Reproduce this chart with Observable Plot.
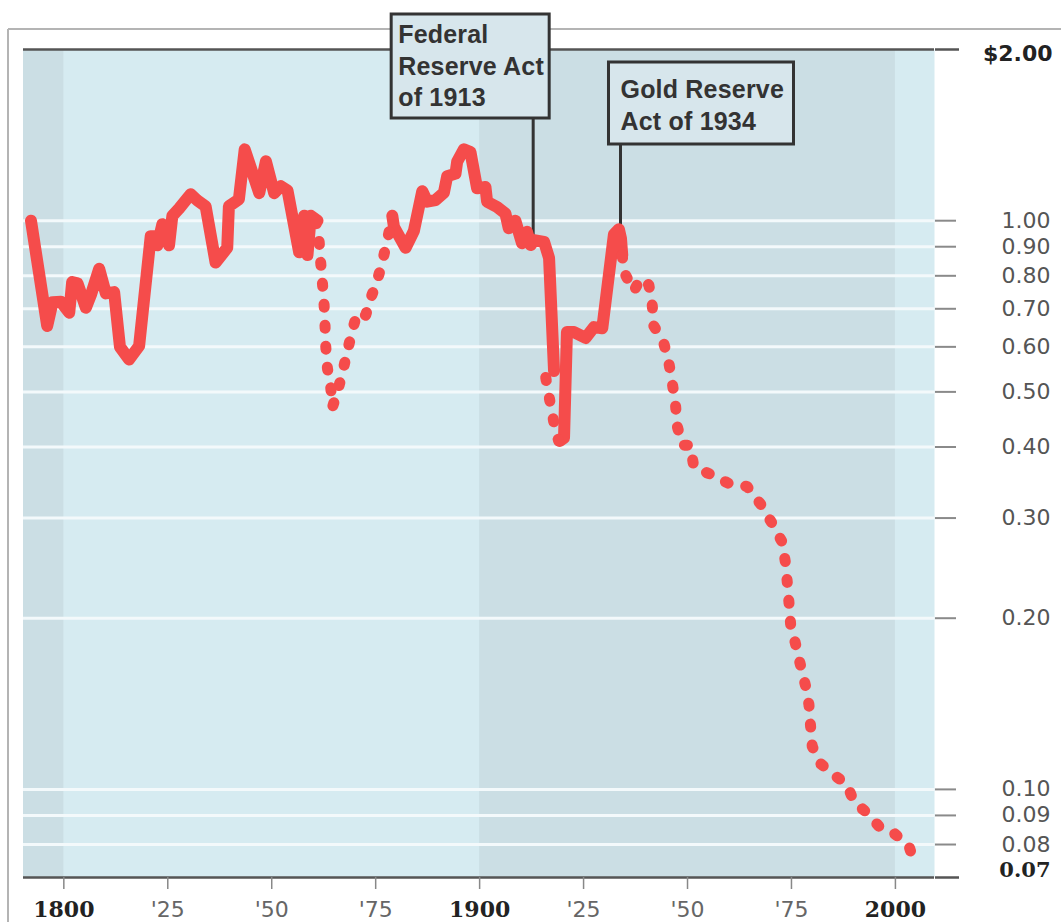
<!DOCTYPE html>
<html>
<head>
<meta charset="utf-8">
<script src="https://cdn.jsdelivr.net/npm/d3@7"></script>
<script src="https://cdn.jsdelivr.net/npm/@observablehq/plot@0.6"></script>
<style>
  html, body { margin: 0; padding: 0; background: #fff; }
  #chart { width: 1061px; height: 922px; }
</style>
</head>
<body>
<div id="chart"></div>
<script>
// ---------- DATA ----------
// Solid segments: [year, value of a dollar]
const solid1 = [
  [1792.1,1.00],[1796.0,0.653],[1797.3,0.719],[1799.3,0.72],[1801.3,0.689],[1802.0,0.78],
  [1803.3,0.776],[1805.3,0.703],[1806.5,0.74],[1808.5,0.823],[1810.1,0.745],[1812.1,0.749],
  [1813.5,0.60],[1815.7,0.57],[1818.1,0.602],[1820.9,0.939],[1822.1,0.94],[1822.5,0.905],
  [1823.7,0.986],[1825.3,0.905],[1826.1,1.02],[1827.7,1.05],[1830.5,1.113],[1832.1,1.086],
  [1834.1,1.06],[1836.5,0.844],[1839.3,0.896],[1839.7,1.06],[1842.1,1.09],[1843.5,1.335],
  [1847.0,1.118],[1848.6,1.272],[1850.6,1.118],[1852.2,1.15],[1853.8,1.13],[1856.6,0.88],
  [1857.8,1.02],[1858.6,0.87],[1859.4,1.02],[1861.0,1.00]
];
const dotted1 = [
  [1860.6,1.00],[1861.4,0.92],[1861.8,0.84],[1862.2,0.776],[1862.6,0.71],[1862.8,0.66],
  [1863.0,0.60],[1863.4,0.55],[1864.2,0.508],[1864.6,0.47],[1865.8,0.50],[1867.0,0.54],
  [1868.2,0.59],[1869.4,0.642],[1870.6,0.69],[1872.6,0.682],[1873.8,0.73],[1875.4,0.786],
  [1876.6,0.846],[1877.8,0.924],[1879.0,1.02]
];
const solid2 = [
  [1879.0,1.02],[1879.4,0.975],[1882.2,0.896],[1884.2,0.96],[1886.2,1.127],[1887.4,1.08],
  [1889.4,1.087],[1891.4,1.12],[1892.2,1.197],[1894.2,1.21],[1894.6,1.27],[1896.2,1.335],
  [1897.8,1.32],[1899.4,1.14],[1901.4,1.146],[1901.8,1.08],[1904.2,1.057],[1906.2,1.03],
  [1907.0,0.97],[1908.6,1.00],[1910.2,0.913],[1911.4,0.956],[1912.3,0.906],[1913.1,0.924],
  [1915.5,0.918],[1916.7,0.86],[1917.9,0.544]
];
const dotted2 = [
  [1915.9,0.53],[1917.0,0.477],[1917.9,0.44],[1919.0,0.41]
];
const solid3 = [
  [1919.3,0.41],[1920.3,0.415],[1921.0,0.637],[1922.7,0.637],[1925.5,0.622],[1927.5,0.65],
  [1929.5,0.647],[1932.3,0.946],[1933.5,0.966],[1934.0,0.93],[1934.3,0.87]
];
const dotted3 = [
  [1934.3,0.87],[1934.7,0.813],[1937.1,0.752],[1938.7,0.792],[1940.7,0.771],[1941.5,0.713],
  [1941.9,0.653],[1944.3,0.609],[1945.5,0.563],[1946.3,0.52],[1947.1,0.476],[1947.5,0.436],
  [1948.7,0.403],[1950.7,0.403],[1951.5,0.369],[1956.3,0.356],[1960.3,0.344],[1964.3,0.341],
  [1967.5,0.318],[1970.3,0.294],[1972.8,0.272],[1973.6,0.249],[1974.0,0.231],[1974.4,0.213],
  [1974.8,0.195],[1976.0,0.18],[1977.2,0.165],[1978.4,0.152],[1979.2,0.141],[1979.6,0.129],
  [1980.0,0.119],[1982.0,0.111],[1985.2,0.106],[1988.4,0.102],[1990.0,0.095],[1993.2,0.091],
  [1996.4,0.0855],[1999.6,0.0838],[2003.2,0.0798],[2004.4,0.0747]
];

// Shaded centuries
const darkBandStarts = [1700, 1900];
const darkBandEnds = [1800, 2000];

// Axis ticks and labels
const xTickYears = [1800, 1825, 1850, 1875, 1900, 1925, 1950, 1975, 2000];
const xTickLabels = ["1800", "'25", "'50", "'75", "1900", "'25", "'50", "'75", "2000"];
const yTickValues = [2, 1, 0.9, 0.8, 0.7, 0.6, 0.5, 0.4, 0.3, 0.2, 0.1, 0.09, 0.08, 0.07];
const yTickLabels = ["$2.00", "1.00", "0.90", "0.80", "0.70", "0.60", "0.50", "0.40", "0.30", "0.20", "0.10", "0.09", "0.08", "0.07"];
const gridValues = [1, 0.9, 0.8, 0.7, 0.6, 0.5, 0.4, 0.3, 0.2, 0.1, 0.09, 0.08];

// Annotations
const annotationYears = [1913, 1934];
const annotationValues = [0.924, 0.966];
const annotationTexts = [["Federal", "Reserve Act", "of 1913"], ["Gold Reserve", "Act of 1934"]];

// ---------- BUILD ----------
const RED = "#f54c4b";
const SANS = "'DejaVu Sans', Verdana, sans-serif";
const SERIF = "'DejaVu Serif', Georgia, serif";
const rows = (pts, seg) => pts.map(([year, value]) => ({year, value, seg}));
const solidRows = [...rows(solid1, "s1"), ...rows(solid2, "s2"), ...rows(solid3, "s3")];
const dottedRows = [...rows(dotted1, "d1"), ...rows(dotted2, "d2"), ...rows(dotted3, "d3")];
const bands = darkBandStarts.map((s, i) => ({x1: s, x2: darkBandEnds[i]}));
const yTicks = yTickValues.map((v, i) => ({value: v, label: yTickLabels[i]}));
const isEdge = v => v === 2 || v === 0.07;
const xLabelOf = new Map(xTickYears.map((y, i) => [y, xTickLabels[i]]));
const centuryYears = xTickYears.filter(y => y % 100 === 0);
const quarterYears = xTickYears.filter(y => y % 100 !== 0);

const plot = Plot.plot({
  width: 1061,
  height: 922,
  marginTop: 49,
  marginBottom: 45,
  marginLeft: 23,
  marginRight: 127,
  x: {domain: [1790.3, 2009.4]},
  y: {type: "log", domain: [0.07, 2]},
  style: {fontFamily: SANS, background: "#fff", overflow: "visible"},
  marks: [
    Plot.frame({fill: "#d6ebf1", stroke: null}),
    Plot.rect(bands, {x1: "x1", x2: "x2", fill: "#cbdee4", clip: true}),
    Plot.ruleY(gridValues, {stroke: "#f3f9fb", strokeWidth: 3}),
    Plot.ruleY([2, 0.07], {stroke: "#555", strokeWidth: 2.5}),
    Plot.axisY(yTickValues.filter(v => !isEdge(v)), {anchor: "right", tickSize: 21, stroke: "#8a8a8a", strokeWidth: 2, tickFormat: () => "", label: null}),
    Plot.axisY([2, 0.07], {anchor: "right", tickSize: 24, stroke: "#555", strokeWidth: 2.5, tickFormat: () => "", label: null}),
    Plot.text(yTicks.filter(d => !isEdge(d.value)), {y: "value", text: "label", frameAnchor: "right", dx: 116, textAnchor: "end", fontSize: 22, fontFamily: SANS, fill: "#555"}),
    Plot.text(yTicks.filter(d => d.value === 2), {y: "value", text: "label", frameAnchor: "right", dx: 118, dy: 4, textAnchor: "end", fontSize: 22, fontWeight: "bold", fontFamily: SANS, fill: "#222"}),
    Plot.text(yTicks.filter(d => d.value === 0.07), {y: "value", text: "label", frameAnchor: "right", dx: 116, dy: -7, textAnchor: "end", fontSize: 21, fontWeight: "bold", fontFamily: SERIF, fill: "#222"}),
    Plot.axisX(centuryYears, {anchor: "bottom", tickSize: 12, tickPadding: 12, stroke: "#888", strokeWidth: 1.5, fill: "#222", fontSize: 22, fontWeight: "bold", fontFamily: SERIF, tickFormat: d => xLabelOf.get(d), label: null}),
    Plot.axisX(quarterYears, {anchor: "bottom", tickSize: 12, tickPadding: 12, stroke: "#888", strokeWidth: 1.5, fill: "#666", fontSize: 22, fontFamily: SANS, tickFormat: d => xLabelOf.get(d), label: null}),
    Plot.line(solidRows, {x: "year", y: "value", z: "seg", stroke: RED, strokeWidth: 12, strokeLinejoin: "round", strokeLinecap: "round"}),
    Plot.line(dottedRows, {x: "year", y: "value", z: "seg", stroke: RED, strokeWidth: 11, strokeLinejoin: "round", strokeLinecap: "round", strokeDasharray: "3,18"})
  ]
});

document.getElementById("chart").appendChild(plot);

// ---------- ANNOTATIONS / FRAME ----------
const svg = d3.select(plot);
const sx = plot.scale("x"), sy = plot.scale("y");

// outer frame lines
svg.append("line").attr("x1", 8).attr("x2", 1061).attr("y1", 29).attr("y2", 29)
  .attr("stroke", "#b4b4b4").attr("stroke-width", 2);
svg.append("line").attr("x1", 8).attr("x2", 8).attr("y1", 29).attr("y2", 922)
  .attr("stroke", "#b4b4b4").attr("stroke-width", 2);

const boxLayout = [
  {left: -142, right: 16, top: 14, bottom: 118, padX: 7, firstBaseline: 43},
  {left: -12, right: 173, top: 62, bottom: 144, padX: 12, firstBaseline: 98}
];
const firstLine = plot.querySelector('g[aria-label="line"]');
annotationYears.forEach((yr, i) => {
  const x = sx.apply(yr);
  const yPt = sy.apply(annotationValues[i]);
  const L = boxLayout[i];
  // leader under the red line
  const leader = document.createElementNS("http://www.w3.org/2000/svg", "line");
  leader.setAttribute("x1", x); leader.setAttribute("x2", x);
  leader.setAttribute("y1", L.bottom); leader.setAttribute("y2", yPt);
  leader.setAttribute("stroke", "#333"); leader.setAttribute("stroke-width", 3);
  if (firstLine) firstLine.parentNode.insertBefore(leader, firstLine); else plot.appendChild(leader);
  // box
  svg.append("rect")
    .attr("x", x + L.left).attr("y", L.top)
    .attr("width", L.right - L.left).attr("height", L.bottom - L.top)
    .attr("fill", "#d7e6ec").attr("stroke", "#333").attr("stroke-width", 3);
  const t = svg.append("text")
    .attr("font-family", "'Liberation Sans', Arial, sans-serif")
    .attr("font-weight", "bold").attr("font-size", 25)
    .attr("text-anchor", "start")
    .attr("letter-spacing", 0.2).attr("fill", "#333");
  annotationTexts[i].forEach((s, j) => {
    t.append("tspan").attr("x", x + L.left + L.padX).attr("y", L.firstBaseline + j * 31.5).text(s);
  });
});
</script>
</body>
</html>
